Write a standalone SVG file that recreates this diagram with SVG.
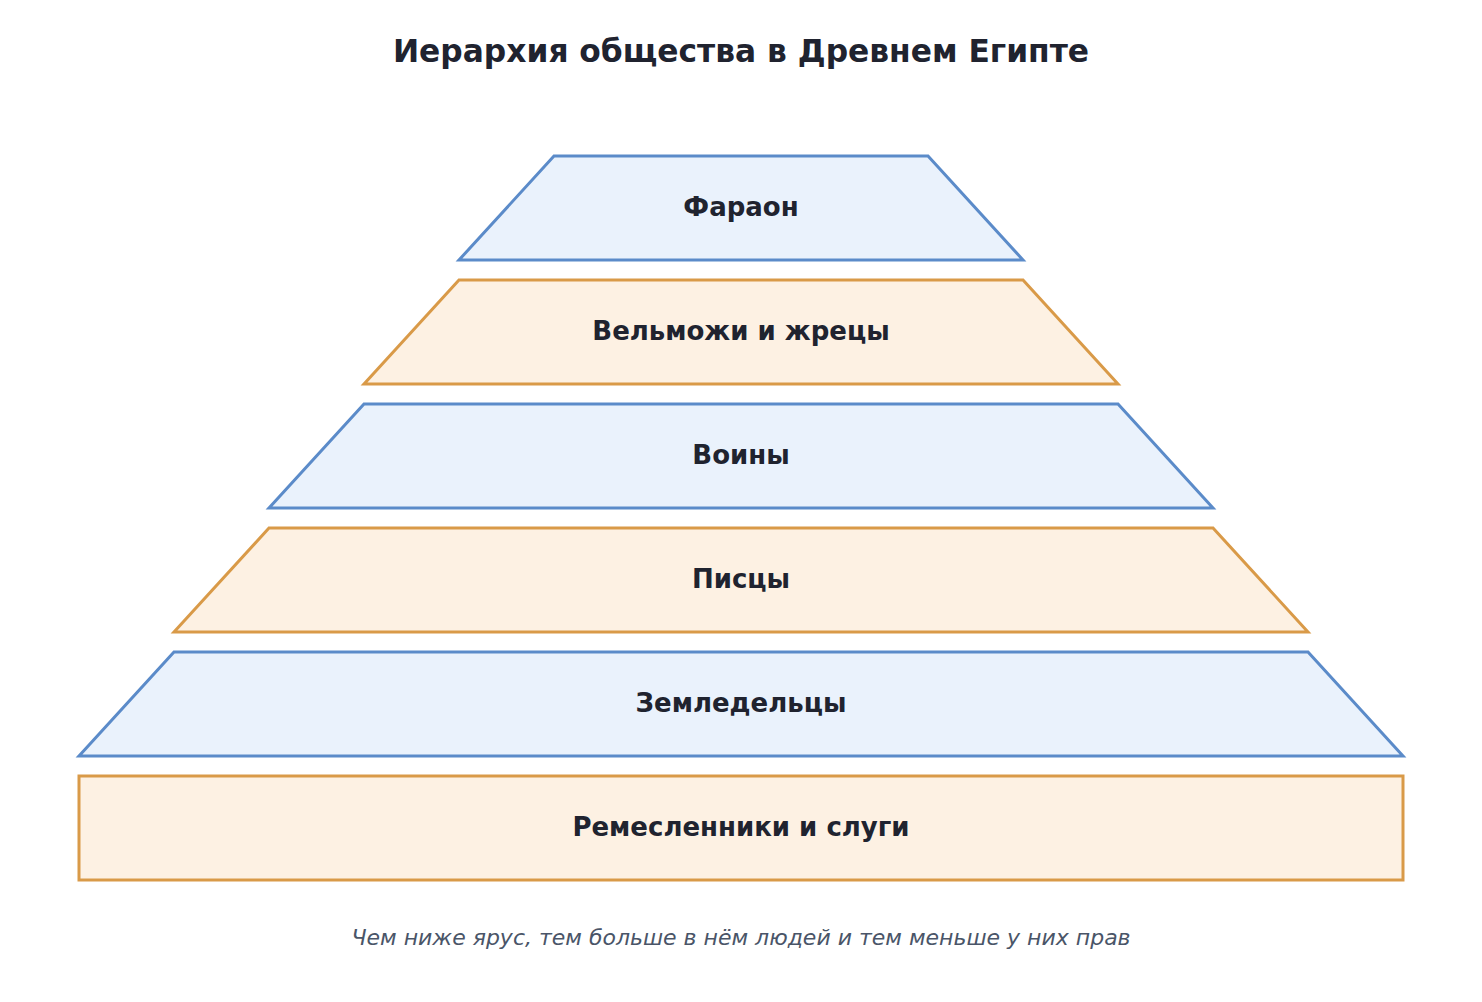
<svg xmlns="http://www.w3.org/2000/svg" width="1482" height="1002" viewBox="0 0 1482 1002">
<style>
.blue{fill:#eaf2fc;stroke:#5b8bc9;stroke-width:3;stroke-linejoin:miter}
.orange{fill:#fdf1e3;stroke:#d99a48;stroke-width:3;stroke-linejoin:miter}
.lbl{font-family:"DejaVu Sans",sans-serif;font-weight:bold;font-size:26px;fill:#20232f;text-anchor:middle}
.title{font-family:"DejaVu Sans",sans-serif;font-weight:bold;font-size:31.3px;fill:#20232f;text-anchor:middle}
.note{font-family:"DejaVu Sans",sans-serif;font-style:italic;font-size:22px;fill:#4a5568;text-anchor:middle}
</style>
<rect width="1482" height="1002" fill="#ffffff"/>
<text class="title" x="741" y="62">Иерархия общества в Древнем Египте</text>
<g id="tier1"><polygon class="blue" points="554,156 928,156 1023,260 459,260"/><text class="lbl" x="741" y="216">Фараон</text></g>
<g id="tier2"><polygon class="orange" points="459,280 1023,280 1118,384 364,384"/><text class="lbl" x="741" y="340">Вельможи и жрецы</text></g>
<g id="tier3"><polygon class="blue" points="364,404 1118,404 1213,508 269,508"/><text class="lbl" x="741" y="464">Воины</text></g>
<g id="tier4"><polygon class="orange" points="269,528 1213,528 1308,632 174,632"/><text class="lbl" x="741" y="588">Писцы</text></g>
<g id="tier5"><polygon class="blue" points="174,652 1308,652 1403,756 79,756"/><text class="lbl" x="741" y="712">Земледельцы</text></g>
<g id="tier6"><rect class="orange" x="79" y="776" width="1324" height="104"/><text class="lbl" x="741" y="836">Ремесленники и слуги</text></g>
<g id="connectors"/>
<text class="note" x="741" y="945">Чем ниже ярус, тем больше в нём людей и тем меньше у них прав</text>
</svg>
